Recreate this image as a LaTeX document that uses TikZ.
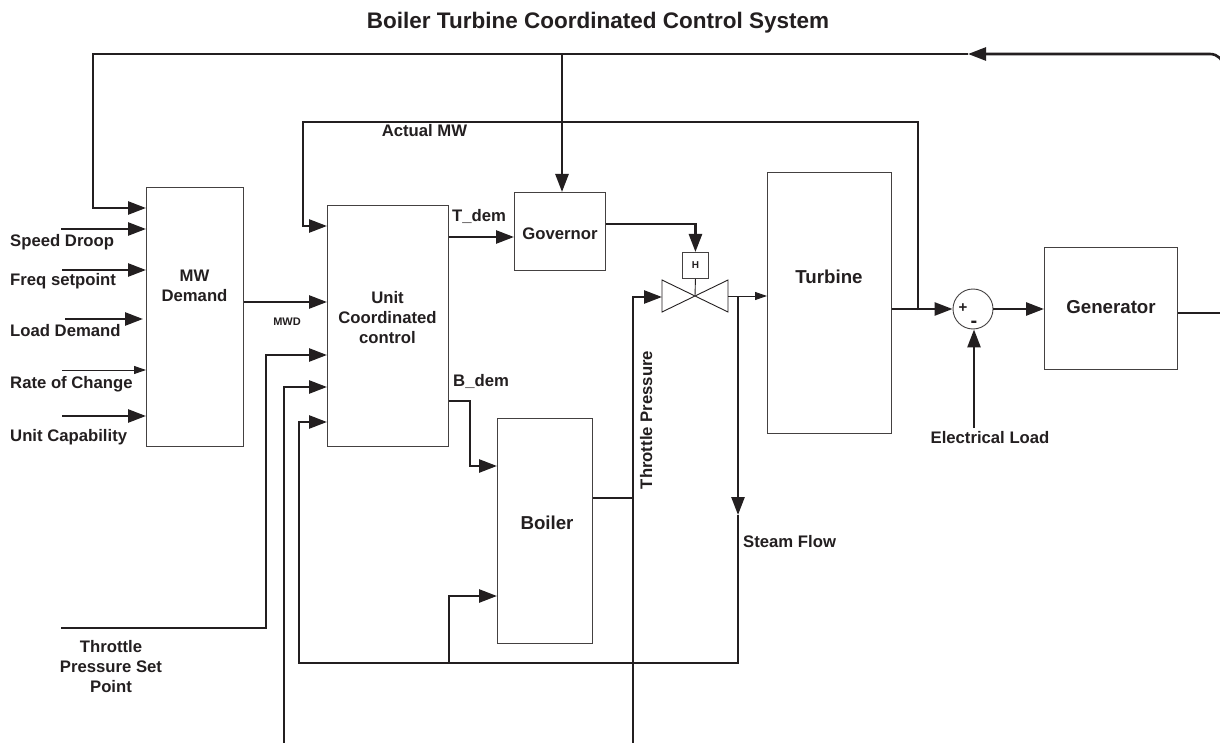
\documentclass[tikz,border=0pt]{standalone}
\usepackage{fontspec}
\setmainfont{Liberation Sans}
\usetikzlibrary{arrows.meta,calc}
\definecolor{ink}{HTML}{231F20}
\begin{document}
\begin{tikzpicture}[x=1pt,y=-1pt,
  box/.style={draw=ink!85, line width=0.9pt, inner sep=0pt, anchor=north west},
  wire/.style={draw=ink, line width=2.6pt},
  thinw/.style={draw=ink, line width=1pt},
  arr/.style={wire, -{Triangle[length=18pt,width=13pt]}},
  sarr/.style={thinw, -{Triangle[length=12pt,width=8pt]}},
  lab/.style={text=ink, font=\bfseries\fontsize{16.7}{20}\selectfont, inner sep=0pt},
  big/.style={text=ink, font=\bfseries\fontsize{18.7}{22}\selectfont, inner sep=0pt},
  small/.style={text=ink, font=\bfseries\fontsize{11}{13}\selectfont, inner sep=0pt},
]
\useasboundingbox (0,0) rectangle (1220,743);
\fill[white] (0,0) rectangle (1220,743);

% title
\node[text=ink, font=\bfseries\fontsize{22.5}{26}\selectfont, inner sep=0pt] (title) at (598,23) {Boiler Turbine Coordinated Control System};

% blocks
\node[box, minimum width=97pt, minimum height=259pt] (mw) at (146,187) {};
\node[box, minimum width=121pt, minimum height=241pt] (ucc) at (327,205) {};
\node[box, minimum width=91pt, minimum height=78pt] (gov) at (514,192) {};
\node[box, minimum width=26pt, minimum height=26pt] (h) at (682,252) {};
\node[box, minimum width=124pt, minimum height=261pt] (turb) at (767,172) {};
\node[box, minimum width=95pt, minimum height=225pt] (boil) at (497,418) {};
\node[box, minimum width=133pt, minimum height=122pt] (gen) at (1044,247) {};
\node[circle, draw=ink!85, line width=0.9pt, minimum size=40pt, inner sep=0pt] (sum) at (973,309) {};

% block texts
\node[lab, align=center] (mwt) at (194.5,285.5) {MW\\Demand};
\node[lab, align=center] (ucct) at (387.5,318) {Unit\\Coordinated\\control};
\node[lab] (govt) at (560,234) {Governor};
\node[text=ink, font=\bfseries\fontsize{10}{12}\selectfont, inner sep=0pt] (ht) at (h.center) {H};
\node[big] (turbt) at (829,277) {Turbine};
\node[big] (boilt) at (547,523) {Boiler};
\node[big] (gent) at (1111,307) {Generator};
\node[text=ink, font=\bfseries\fontsize{15}{15}\selectfont, inner sep=0pt] (plus) at (963,308) {+};
\node[text=ink, font=\bfseries\fontsize{20}{20}\selectfont, inner sep=0pt] (minus) at (974,324) {-};

% valve
\coordinate (valve) at (695,296);
\draw[thinw, line width=0.9pt] (662,280) -- (728,312) -- (728,280) -- (662,312) -- cycle;
\draw[thinw, line width=0.9pt] (h.south) -- (valve);

% input labels
\node[lab, anchor=base west] (l1) at (10,247) {Speed Droop};
\node[lab, anchor=base west] (l2) at (10,286) {Freq setpoint};
\node[lab, anchor=base west] (l3) at (10,336) {Load Demand};
\node[lab, anchor=base west] (l4) at (10,388) {Rate of Change};
\node[lab, anchor=base west] (l5) at (10,441) {Unit Capability};
\node[lab, align=center] (tpsp) at (111,666.5) {Throttle\\Pressure Set\\Point};
\node[lab, anchor=base] (amw) at (424.5,137) {Actual MW};
\node[lab, anchor=base west] (tdem) at (452,222) {T\_dem};
\node[lab, anchor=base west] (bdem) at (453,386) {B\_dem};
\node[small, anchor=base] (mwd) at (287,325) {MWD};
\node[lab, anchor=base west] (sf) at (743,547) {Steam Flow};
\node[lab, anchor=base] (el) at (990,443) {Electrical Load};
\node[lab, anchor=base, rotate=90] (tp) at (652,420) {Throttle Pressure};

% free ends
\coordinate (s1) at (61,229);
\coordinate (s2) at (62,270);
\coordinate (s3) at (65,319);
\coordinate (s4) at (62,370);
\coordinate (s5) at (62,416);
\coordinate (s6) at (61,628);
\coordinate (b1) at (284,743);
\coordinate (b2) at (633,743);
\coordinate (topar) at (968,54);
\coordinate (rside) at (1224,200);
\coordinate (jmw) at (918,310);
\coordinate (jsf) at (738,296);
\coordinate (sfar) at (738,515);
\coordinate (jb) at (449,663);
\coordinate (elin) at (974,428);

% inputs to MW demand
\draw[arr] (s1) -- (mw.west |- s1);
\draw[arr] (s2) -- (mw.west |- s2);
\draw[arr, shorten >=3pt] (s3) -- (mw.west |- s3);
\draw[sarr] (s4) -- (mw.west |- s4);
\draw[arr] (s5) -- (mw.west |- s5);

% big frequency feedback loop
\draw[wire] (gen.east |- 0,313) -- (1224,313) -- (rside);
\draw[arr, rounded corners=14pt] (rside) -- (1224,54) -- (topar);
\draw[arr] (topar) -- (93,54) -- (93,208) -- (mw.west |- 0,208);
\draw[arr] (562,54) -- (gov.north -| 562,0);

% MWD
\draw[arr] (mw.east |- 0,302) -- (ucc.west |- 0,302);

% Actual MW
\draw[arr] (jmw) -- (918,122) -- (303,122) -- (303,226) -- (ucc.west |- 0,226);

% T_dem / governor / valve
\draw[arr] (ucc.east |- 0,237) -- (gov.west |- 0,237);
\draw[arr] (gov.east |- 0,224) -- (h.north |- 0,224) -- (h.north);

% throttle pressure
\draw[arr] (b2) -- (633,297) -- (662,297);
\draw[wire] (boil.east |- 0,498) -- (633,498);

% valve to turbine
\draw[sarr] (728,296) -- (turb.west |- 0,296);

% steam flow loop
\draw[arr] (jsf) -- (sfar);
\draw[arr] (sfar) -- (738,663) -- (299,663) -- (299,422) -- (ucc.west |- 0,422);
\draw[arr] (jb) -- (449,596) -- (boil.west |- 0,596);

% throttle pressure set point and other UCC inputs
\draw[arr] (s6) -- (266,628) -- (266,355) -- (ucc.west |- 0,355);
\draw[arr] (b1) -- (284,387) -- (ucc.west |- 0,387);

% B_dem
\draw[arr] (ucc.east |- 0,401) -- (470,401) -- (470,466) -- (boil.west |- 0,466);

% turbine -> sum -> generator
\draw[arr] (turb.east |- sum.west) -- (sum.west);
\draw[arr] (sum.east) -- (gen.west |- sum.east);
\draw[arr] (elin) -- (sum.south -| elin);
\end{tikzpicture}
\end{document}
